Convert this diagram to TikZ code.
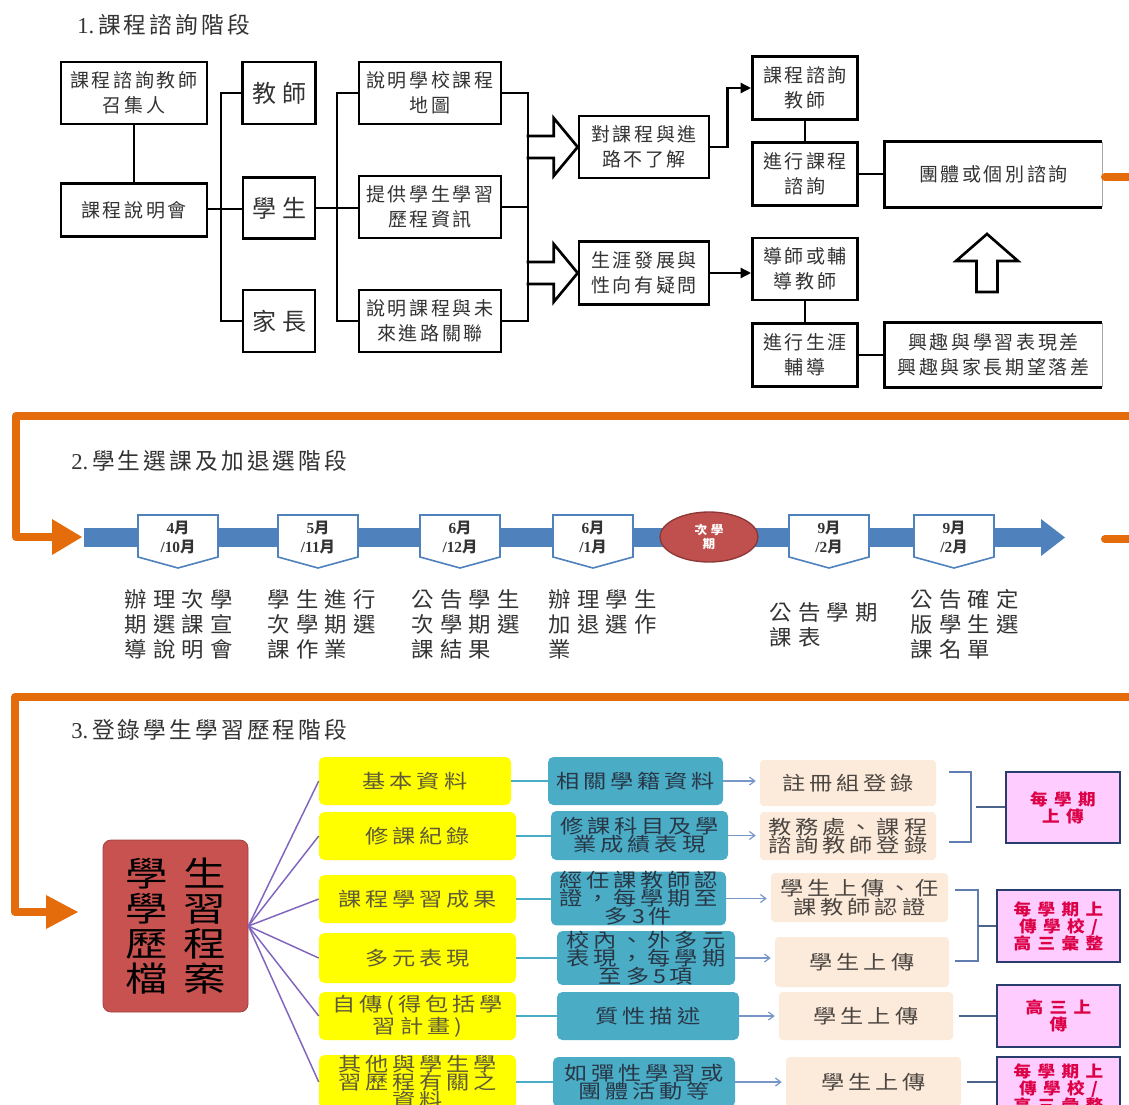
\documentclass[tikz,border=0pt]{standalone}
\usepackage{fontspec}
\setmainfont{Noto Sans CJK TC}
\newfontfamily\fA{Noto Sans CJK TC}[LetterSpace=14]
\newfontfamily\fAw{Noto Sans CJK TC}[LetterSpace=25]
\newfontfamily\fB{Noto Sans CJK TC}[LetterSpace=30,FakeStretch=1.05]
\newfontfamily\fC{Noto Sans CJK TC}[LetterSpace=20,FakeStretch=1.2]
\newfontfamily\fD{Noto Sans CJK TC}[LetterSpace=47,FakeStretch=1.25]
\newfontfamily\fE{Noto Sans CJK TC}[LetterSpace=40,FakeStretch=1.1]
\newfontfamily\lat{Liberation Serif}
\usetikzlibrary{arrows.meta,calc,shapes.geometric}
\definecolor{orng}{RGB}{228,108,10}
\definecolor{barblue}{RGB}{79,129,189}
\definecolor{ellred}{RGB}{192,80,77}
\definecolor{ellbd}{RGB}{140,56,54}
\definecolor{rbred}{RGB}{200,82,80}
\definecolor{ylw}{RGB}{255,255,0}
\definecolor{ytx}{RGB}{95,90,55}
\definecolor{tealbx}{RGB}{75,172,198}
\definecolor{ttx}{RGB}{40,55,70}
\definecolor{peach}{RGB}{252,234,218}
\definecolor{ptx}{RGB}{75,70,65}
\definecolor{pinkbx}{RGB}{255,204,255}
\definecolor{pinkbd}{RGB}{40,60,110}
\definecolor{pinktx}{RGB}{220,0,70}
\definecolor{purp}{RGB}{128,100,190}
\definecolor{arrbl}{RGB}{120,150,200}
\definecolor{brk}{RGB}{95,125,175}
\newcommand\nd[7]{\node[#1,minimum width=#5*0.75pt,minimum height=#6*0.75pt] (#2) at (#3,#4) {#7};}
\newcommand\mk[4]{\draw[mkst] (#2-40,515) -- (#2+40,515) -- (#2+40,557) -- (#2,568) -- (#2-40,557) -- cycle;
  \node[mktx] (#1) at (#2,538) {#3\\#4};}
\tikzset{
  bx/.style={draw=black,line width=2pt,fill=white,inner sep=0pt,align=center,text=black!80,font=\fA\fontsize{14.25}{18.75}\selectfont},
  bxbig/.style={bx,font=\fAw\fontsize{18}{20}\selectfont},
  bxopen/.style={bx,draw=none},
  cn/.style={line width=2pt,draw=black},
  cnarr/.style={cn,-{Triangle[length=8pt,width=7.5pt]}},
  hollow/.style={draw=black,line width=2pt,line join=miter},
  ttl/.style={anchor=west,inner sep=0pt,text=black!80,font=\fA\fontsize{17}{20}\selectfont},
  orl/.style={draw=orng,line width=6pt,line join=round},
  mkst/.style={draw=barblue,line width=1.2pt,fill=white,line join=miter},
  mktx/.style={inner sep=0pt,align=center,text=black!80,font=\bfseries\fontsize{11.5}{14.25}\selectfont},
  lab/.style={anchor=north west,inner sep=0pt,align=left,text=black!80,font=\fB\fontsize{16}{18.75}\selectfont},
  rbx/.style={fill=rbred,draw=rbred!80!black,line width=0.6pt,rounded corners=6pt,inner sep=0pt,align=center,text=black,font=\fD\fontsize{25.5}{26.25}\selectfont},
  yb/.style={fill=ylw,rounded corners=4pt,inner sep=0pt,align=center,text=ytx,font=\fC\fontsize{14.5}{13.5}\selectfont},
  tb/.style={fill=tealbx,rounded corners=4pt,inner sep=0pt,align=center,text=ttx,font=\fC\fontsize{14.5}{13.5}\selectfont},
  pb/.style={fill=peach,rounded corners=3pt,inner sep=0pt,align=center,text=ptx,font=\fC\fontsize{14.5}{14}\selectfont},
  kb/.style={fill=pinkbx,draw=pinkbd,line width=1.8pt,inner sep=0pt,align=center,text=pinktx,font=\fE\bfseries\fontsize{12}{12.8}\selectfont},
  pl/.style={draw=purp,line width=1.1pt},
  tl/.style={draw=tealbx,line width=1.1pt},
  al/.style={draw=arrbl,line width=0.9pt,-{Straight Barb[length=4pt,width=6pt]},shorten >=3pt},
  bk/.style={draw=brk,line width=1.1pt},
  bks/.style={draw=brk!80!black,line width=1.6pt},
}
\begin{document}
\begin{tikzpicture}[x=0.75pt,y=-0.75pt]
\useasboundingbox (0,0) rectangle (1129,1104);
\clip (0,0) rectangle (1129,1104);
\fill[white] (0,0) rectangle (1129,1104);

% ---------- Section 1 ----------
\node[ttl] (T1) at (77,25) {{\lat 1.}\,課程諮詢階段};
\nd{bx}{zj}{134}{93}{146}{62}{課程諮詢教師\\召集人}
\nd{bx}{smh}{134}{210}{146}{53}{課程說明會}
\nd{bxbig}{js}{279}{93}{73}{62}{教師}
\nd{bxbig}{xs}{279}{208}{72}{61}{學生}
\nd{bxbig}{jz}{279}{321}{72}{62}{家長}
\nd{bx}{b1}{430}{93}{142}{62}{說明學校課程\\地圖}
\nd{bx}{b2}{430}{207}{142}{62}{提供學生學習\\歷程資訊}
\nd{bx}{b3}{430}{321}{142}{62}{說明課程與未\\來進路關聯}
\nd{bx}{q1}{644}{147}{130}{62}{對課程與進\\路不了解}
\nd{bx}{q2}{644}{273}{130}{63}{生涯發展與\\性向有疑問}
\nd{bx}{t1}{805}{88}{105}{63}{課程諮詢\\教師}
\nd{bx}{t2}{805}{174}{105}{63}{進行課程\\諮詢}
\nd{bx}{t3}{805}{269}{105}{62}{導師或輔\\導教師}
\nd{bx}{t4}{805}{355}{105}{63}{進行生涯\\輔導}
\nd{bxopen}{g1}{993.5}{174.5}{215}{63}{團體或個別諮詢}
\nd{bxopen}{g2}{993.5}{355}{215}{62}{興趣與學習表現差\\興趣與家長期望落差}
\draw[cn] (g1.north east) -- (g1.north west) -- (g1.south west) -- (g1.south east);
\draw[cn] (g2.north east) -- (g2.north west) -- (g2.south west) -- (g2.south east);
\draw[black!35,line width=0.8pt] (g1.north east) -- (g1.south east);
\draw[black!35,line width=0.8pt] (g2.north east) -- (g2.south east);

\draw[cn] (zj) -- (smh);
\coordinate (L) at (221,209);
\coordinate (M) at (337,208);
\coordinate (R) at (528,207);
\draw[cn] (js.west) -| (L) |- (jz.west);
\draw[cn] (smh.east |- L) -- (L -| xs.west);
\draw[cn] (b1.west) -| (M) |- (b3.west);
\draw[cn] (xs.east |- M) -- (M -| b2.west);
\draw[cn] (b1.east) -| (R) |- (b3.east);
\draw[cn] (b2.east |- R) -- (R);
\foreach \q in {q1,q2}{
  \draw[hollow] ($(\q.west)+(-51,-11)$) -- ($(\q.west)+(-24,-11)$) -- ($(\q.west)+(-24,-29)$) -- (\q.west)
    -- ($(\q.west)+(-24,29)$) -- ($(\q.west)+(-24,11)$) -- ($(\q.west)+(-51,11)$);
}
\draw[cnarr] (q1.east) -- ++(17,0) |- (t1.west);
\draw[cnarr] (q2.east) -- (q2.east -| t3.west);
\draw[cn] (t1.south) -- (t1.south |- t2.north);
\draw[cn] (t2.east) -- (t2.east -| g1.west);
\draw[cn] (t3.south) -- (t3.south |- t4.north);
\draw[cn] (t4.east) -- (t4.east -| g2.west);
\draw[hollow] (976.5,292) -- (976.5,261) -- (956,261) -- (987,234) -- (1018,261) -- (997.5,261) -- (997.5,292) -- cycle;
\draw[orng,line width=6pt,line cap=round] (1105,177) -- (1140,177);

% ---------- Section 2 ----------
\coordinate (in2) at (82,537);
\draw[orl] (1140,416) -- (16,416) -- (16,537) -- (56,537);
\fill[orng] (52,519) -- (in2) -- (52,555) -- cycle;
\node[ttl] (T2) at (71,461) {{\lat 2.}\,學生選課及加退選階段};
\fill[barblue] (84,528) rectangle (1041,547);
\fill[barblue] (1041,519) -- (1065,537.5) -- (1041,556) -- cycle;
\mk{m1}{178}{{\lat 4}月}{{\lat /10}月}
\mk{m2}{318}{{\lat 5}月}{{\lat /11}月}
\mk{m3}{460}{{\lat 6}月}{{\lat /12}月}
\mk{m4}{593}{{\lat 6}月}{{\lat /1}月}
\mk{m5}{829}{{\lat 9}月}{{\lat /2}月}
\mk{m6}{954}{{\lat 9}月}{{\lat /2}月}
\node[ellipse,fill=ellred,draw=ellbd,line width=1pt,minimum width=98*0.75pt,minimum height=50*0.75pt,
  inner sep=0pt,align=center,text=white,font=\fB\bfseries\fontsize{9}{11}\selectfont] (ell) at (709,537) {次學\\期};
\node[lab] (l1) at (124,589) {辦理次學\\期選課宣\\導說明會};
\node[lab] (l2) at (267,589) {學生進行\\次學期選\\課作業};
\node[lab] (l3) at (411,589) {公告學生\\次學期選\\課結果};
\node[lab] (l4) at (548,589) {辦理學生\\加退選作\\業};
\node[lab] (l5) at (769,602) {公告學期\\課表};
\node[lab] (l6) at (910,589) {公告確定\\版學生選\\課名單};
\draw[orng,line width=6pt,line cap=round] (1105,539) -- (1140,539);

% ---------- Section 3 ----------
\coordinate (in3) at (78,912);
\draw[orl] (1140,697) -- (15,697) -- (15,912) -- (50,912);
\fill[orng] (46,895) -- (in3) -- (46,929) -- cycle;
\node[ttl] (T3) at (71,730) {{\lat 3.}\,登錄學生學習歷程階段};
\nd{rbx}{rb}{175.5}{926}{145}{172}{學生\\學習\\歷程\\檔案}
\nd{yb}{y1}{415}{781}{192}{48}{基本資料}
\nd{yb}{y2}{417.5}{836}{197}{48}{修課紀錄}
\nd{yb}{y3}{417.5}{899}{197}{48}{課程學習成果}
\nd{yb}{y4}{417.5}{958}{197}{50}{多元表現}
\nd{yb}{y5}{417.5}{1016}{197}{48}{自傳(得包括學\\習計畫)}
\nd{yb}{y6}{417.5}{1082}{197}{50}{其他與學生學\\習歷程有關之\\資料}
\nd{tb}{c1}{635.5}{781}{175}{48}{相關學籍資料}
\nd{tb}{c2}{639.5}{835.5}{177}{49}{修課科目及學\\業成績表現}
\nd{tb}{c3}{638.5}{898.5}{175}{51}{經任課教師認\\證，每學期至\\多3件}
\nd{tb}{c4}{646}{958}{178}{50}{校內、外多元\\表現，每學期\\至多5項}
\nd{tb}{c5}{648}{1016}{182}{48}{質性描述}
\nd{tb}{c6}{644}{1082}{182}{50}{如彈性學習或\\團體活動等}
\nd{pb}{p1}{848}{783}{176}{46}{註冊組登錄}
\nd{pb}{p2}{848}{836}{176}{48}{教務處、課程\\諮詢教師登錄}
\nd{pb}{p3}{859.5}{897.5}{177}{49}{學生上傳、任\\課教師認證}
\nd{pb}{p4}{862}{962}{174}{50}{學生上傳}
\nd{pb}{p5}{866}{1016}{174}{48}{學生上傳}
\nd{pb}{p6}{873.5}{1082}{175}{50}{學生上傳}
\nd{kb}{k1}{1063}{807.5}{114}{71}{每學期\\上傳}
\nd{kb}{k2}{1058.5}{926}{123}{72}{每學期上\\傳學校/\\高三彙整}
\nd{kb}{k3}{1058.5}{1016}{123}{62}{高三上\\傳}
\nd{kb}{k4}{1058.5}{1088}{123}{62}{每學期上\\傳學校/\\高三彙整}
\foreach \n in {y1,y2,y3,y4,y5,y6}{\draw[pl] (rb.east) -- (\n.west);}
\foreach \i in {1,...,6}{
  \draw[tl] (y\i.east) -- (y\i.east -| c\i.west);
  \draw[al] (c\i.east) -- (c\i.east -| p\i.west);
}
\coordinate (bA) at (971,807);
\coordinate (bB) at (978,926);
\draw[bk] (949,772) -| (bA) |- (949,842);
\draw[bks] (bA) ++(5,0) -- (bA -| k1.west);
\draw[bk] (955,890) -| (bB) |- (955,961);
\draw[bks] (bB) -- (bB -| k2.west);
\draw[bks,shorten <=4pt] (p5.east) -- (p5.east -| k3.west);
\draw[bks,shorten <=4pt] (p6.east) -- (p6.east -| k4.west);
\end{tikzpicture}
\end{document}
